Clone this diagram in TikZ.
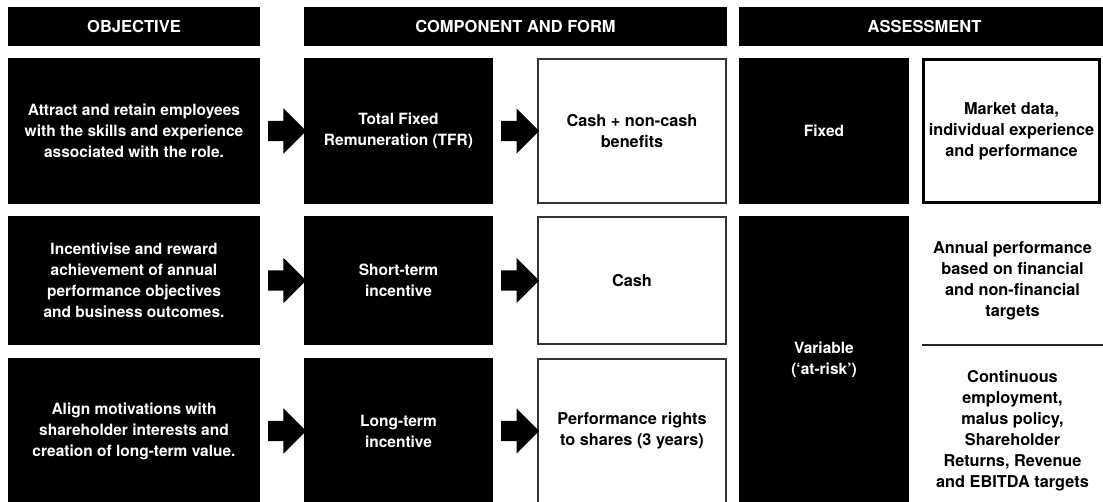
\documentclass[tikz,border=0pt]{standalone}
\usepackage{fontspec}
\setmainfont{TeX Gyre Heros}
\usetikzlibrary{shapes.arrows,calc}

\begin{document}
\begin{tikzpicture}[x=1pt,y=-1pt,
  headbox/.style={fill=black,text=white,inner sep=0pt,minimum height=39pt,
    font=\fontsize{16.5}{20}\selectfont\bfseries},
  darkbox/.style={fill=black,text=white,align=center,inner sep=0pt,
    font=\fontsize{15.5}{21}\selectfont\bfseries},
  lightbox/.style={draw=black!80,line width=2pt,fill=white,text=black,align=center,inner sep=0pt,
    font=\fontsize{16.3}{21}\selectfont\bfseries},
  plaintext/.style={text=black,align=center,inner sep=0pt,
    font=\fontsize{16.3}{21}\selectfont\bfseries},
  fatarrow/.style={single arrow,fill=black,inner xsep=0pt,inner ysep=10pt,minimum height=38pt,
    single arrow head extend=12.5pt}]
  \useasboundingbox (0,0) rectangle (1103,502);
  \clip (0,0) rectangle (1103,502);
  %headers
  \node[headbox,minimum width=252pt] (hobj) at (134,26.5) {OBJECTIVE};
  \node[headbox,minimum width=423pt] (hcomp) at (515.5,26.5) {COMPONENT AND FORM};
  \node[headbox,minimum width=371pt] (hass) at (924.5,26.5) {ASSESSMENT};
  %objective column
  \node[darkbox,minimum width=252pt,minimum height=146pt] (obj1) at (134,131)
    {Attract and retain employees\\with the skills and experience\\associated with the role.};
  \node[darkbox,minimum width=252pt,minimum height=129pt] (obj2) at (134,280.5)
    {Incentivise and reward\\achievement of annual\\performance objectives\\and business outcomes.};
  \node[darkbox,minimum width=252pt,minimum height=146pt] (obj3) at (134,431)
    {Align motivations with\\shareholder interests and\\creation of long-term value.};
  %component
  \node[darkbox,minimum width=189pt,minimum height=146pt] (tfr) at (398.5,131)
    {Total Fixed\\Remuneration (TFR)};
  \node[darkbox,minimum width=189pt,minimum height=129pt] (sti) at (398.5,280.5)
    {Short-term\\incentive};
  \node[darkbox,minimum width=189pt,minimum height=146pt] (lti) at (398.5,431)
    {Long-term\\incentive};
  %form
  \node[lightbox,minimum width=188pt,minimum height=144pt] (form1) at (632,131)
    {Cash + non-cash\\benefits};
  \node[lightbox,minimum width=188pt,minimum height=127pt] (form2) at (632,280.5)
    {Cash};
  \node[lightbox,minimum width=188pt,minimum height=144pt] (form3) at (632,431)
    {Performance rights\\to shares (3 years)};
  %assessment
  \node[darkbox,minimum width=170pt,minimum height=146pt] (fixed) at (824,131) {Fixed};
  \node[darkbox,minimum width=170pt,minimum height=288pt] (variable) at (824,360)
    {Variable\\(‘at-risk’)};
  \node[lightbox,draw=black,line width=2.5pt,minimum width=176pt,minimum height=143pt] (market) at (1011.5,131)
    {Market data,\\individual experience\\and performance};
  \node[plaintext,minimum width=181pt,minimum height=129pt] (annual) at (1012.5,280.5)
    {Annual performance\\based on financial\\and non-financial\\targets};
  \node[plaintext,minimum width=181pt,minimum height=146pt] (cont) at (1012.5,431)
    {Continuous\\employment,\\malus policy,\\Shareholder\\Returns, Revenue\\and EBITDA targets};
  \draw[black!85,line width=1.5pt] (annual.south west) -- (annual.south east);
  %arrows
  \node[fatarrow] (a11) at ($(obj1.east)!0.5!(tfr.west)$) {};
  \node[fatarrow] (a12) at ($(tfr.east)!0.5!(form1.west)$) {};
  \node[fatarrow] (a21) at ($(obj2.east)!0.5!(sti.west)$) {};
  \node[fatarrow] (a22) at ($(sti.east)!0.5!(form2.west)$) {};
  \node[fatarrow] (a31) at ($(obj3.east)!0.5!(lti.west)$) {};
  \node[fatarrow] (a32) at ($(lti.east)!0.5!(form3.west)$) {};
\end{tikzpicture}
\end{document}
